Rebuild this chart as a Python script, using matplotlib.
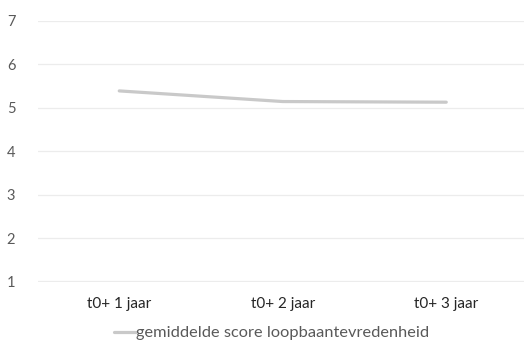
import matplotlib.pyplot as plt

categories = ['t0+ 1 jaar', 't0+ 2 jaar', 't0+ 3 jaar']
scores = [5.39, 5.145, 5.13]
series_name = 'gemiddelde score loopbaantevredenheid'
yticks = [1, 2, 3, 4, 5, 6, 7]

plt.rcParams['font.family'] = ['Lato', 'DejaVu Sans']

W, H = 524, 342
fig = plt.figure(figsize=(W / 100, H / 100), dpi=100)
# plot area runs slightly past the right edge
left, right = 37.5, 528.0
bottom, top = 281.5, 21.0
ax = fig.add_axes([left / W, 1 - bottom / H, (right - left) / W, (bottom - top) / H])

ax.plot(range(len(categories)), scores, color='#c9c9c9', lw=2.3,
        solid_capstyle='round', label=series_name, zorder=3)

ax.set_xlim(-0.5, len(categories) - 0.5)
ax.set_ylim(1, 7)
ax.set_yticks(yticks)
ax.set_xticks(range(len(categories)))
ax.set_xticklabels(categories, fontsize=11, color='#262626')
ax.set_yticklabels([str(v) for v in yticks], fontsize=10.5, color='#595959')
ax.tick_params(length=0)
ax.tick_params(axis='x', pad=11)
ax.tick_params(axis='y', pad=16)
for s in ax.spines.values():
    s.set_visible(False)
ax.grid(axis='y', color='#ececec', lw=0.9)
ax.set_axisbelow(True)

leg = fig.legend(loc='center', bbox_to_anchor=(272 / W, 1 - 333 / H), frameon=False,
                 fontsize=11.8, handlelength=1.3, handletextpad=0.05, labelcolor='#595959')

fig.savefig('out.png', dpi=100)
